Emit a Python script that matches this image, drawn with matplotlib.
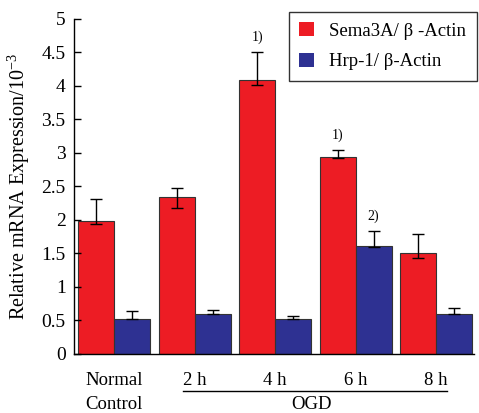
import matplotlib
matplotlib.use("Agg")
import matplotlib.pyplot as plt
import numpy as np

plt.rcParams['font.family'] = ['Liberation Serif', 'DejaVu Serif']
plt.rcParams['mathtext.fontset'] = 'custom'
plt.rcParams['mathtext.rm'] = 'Liberation Serif'
plt.rcParams['mathtext.it'] = 'Liberation Serif:italic'

groups = ["Normal\nControl", "2 h", "4 h", "6 h", "8 h"]
sema3a = [1.98, 2.34, 4.09, 2.94, 1.51]
sema3a_err_up = [0.34, 0.14, 0.42, 0.11, 0.28]
sema3a_err_down = [0.04, 0.16, 0.08, 0.02, 0.08]
nrp1 = [0.52, 0.60, 0.52, 1.61, 0.60]
nrp1_err_up = [0.12, 0.06, 0.05, 0.23, 0.09]
nrp1_err_down = [0.0, 0.0, 0.0, 0.02, 0.0]
series_names = ["Sema3A/ β -Actin", "Hrp-1/ β-Actin"]
yticks = [0, 0.5, 1, 1.5, 2, 2.5, 3, 3.5, 4, 4.5, 5]
ytick_labels = ["0", "0.5", "1", "1.5", "2", "2.5", "3", "3.5", "4", "4.5", "5"]
annotations = [(2, 0, "1)"), (3, 0, "1)"), (3, 1, "2)")]

red = "#ED1C24"
blue = "#2E3192"

fig = plt.figure(figsize=(4.79, 4.13), dpi=100)
ax = fig.add_axes([0.1545, 0.143, 0.835, 0.811])

x = np.arange(len(groups))
w = 0.447
ekw = dict(ecolor="black", elinewidth=1.0, capsize=4, capthick=1.0)
ax.bar(x - w / 2, sema3a, w, color=red, edgecolor="#333333", linewidth=0.8,
       yerr=[sema3a_err_down, sema3a_err_up], error_kw=ekw, label=series_names[0])
ax.bar(x + w / 2, nrp1, w, color=blue, edgecolor="#333333", linewidth=0.8,
       yerr=[nrp1_err_down, nrp1_err_up], error_kw=ekw, label=series_names[1])

ax.set_xlim(-0.5, 4.47)
ax.set_ylim(0, 5)
ax.set_yticks(yticks)
ax.set_yticklabels(ytick_labels, fontsize=14)
ax.tick_params(axis='y', direction='in', length=5, width=1, pad=6)
ax.set_xticks([])
for s in ['top', 'right']:
    ax.spines[s].set_visible(False)
ax.spines['left'].set_linewidth(1.0)
ax.spines['bottom'].set_linewidth(1.0)

ax.set_ylabel(r"Relative mRNA Expression/10$^{-3}$", fontsize=14.5, labelpad=7)

# annotations
for gi, si, txt in annotations:
    vals = sema3a if si == 0 else nrp1
    errs = sema3a_err_up if si == 0 else nrp1_err_up
    xx = gi - w / 2 if si == 0 else gi + w / 2
    ax.text(xx, vals[gi] + errs[gi] + 0.12, txt, ha='center', va='bottom', fontsize=10)

# x labels
for i, g in enumerate(groups[1:], start=1):
    ax.text(i, -0.39, g, ha='center', va='center', fontsize=13.5)
ax.text(0, -0.39, "Normal", ha='center', va='center', fontsize=13.5)
ax.text(0, -0.76, "Control", ha='center', va='center', fontsize=13.5)
ax.plot([0.85, 4.14], [-0.55, -0.55], color='black', lw=1.0, clip_on=False)
ax.text(2.45, -0.76, "OGD", ha='center', va='center', fontsize=13.5)

leg = ax.legend(loc='upper right', bbox_to_anchor=(1.03, 1.05), fontsize=13.5, frameon=True,
                fancybox=False, edgecolor='black', handlelength=0.8, handleheight=0.8,
                handletextpad=0.8, borderpad=0.55, labelspacing=0.7)
leg.get_frame().set_linewidth(1.0)
for h in leg.legend_handles:
    h.set_edgecolor('none')

fig.savefig("out.png", dpi=100)
